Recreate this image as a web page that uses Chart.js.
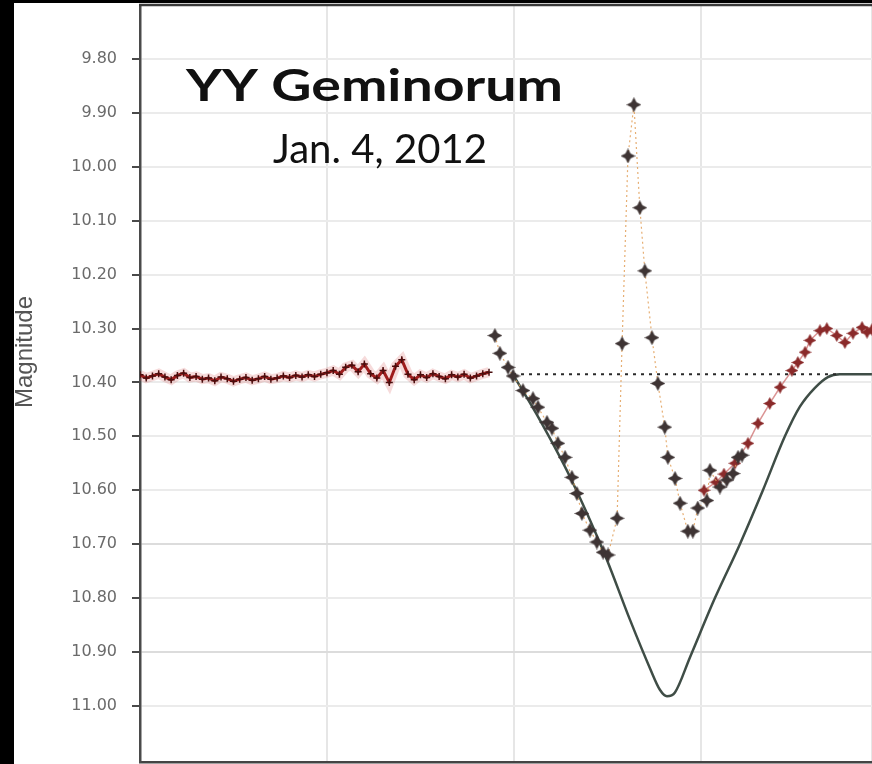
<!DOCTYPE html>
<html>
<head>
<meta charset="utf-8">
<script src="https://cdn.jsdelivr.net/npm/chart.js@4"></script>
<style>
  html, body { margin: 0; padding: 0; background: #fff; overflow: hidden; }
  #wrap { position: relative; width: 872px; height: 764px; }
  canvas { display: block; }
</style>
</head>
<body>
<div id="wrap"><canvas id="lc" width="872" height="764"></canvas></div>
<script>
// YY Geminorum light curve, Jan. 4, 2012 (time in minutes from start of run)

// magnitude axis tick labels
const magTicks = [9.80, 9.90, 10.00, 10.10, 10.20, 10.30, 10.40, 10.50, 10.60, 10.70, 10.80, 10.90, 11.00];

// out-of-eclipse baseline
const baseTimes = [0, 2, 4, 6, 8, 10, 12, 14, 16, 18, 20, 22, 24, 26, 28, 30, 32, 34, 36, 38,
  40, 42, 44, 46, 48, 50, 52, 54, 56, 58, 60, 62, 64, 66, 68, 70, 72, 74, 76, 78,
  80, 82, 84, 86, 88, 90, 92, 94, 96, 98, 100, 102, 104, 106, 108, 110, 112];
const baseMags = [10.386, 10.392, 10.388, 10.384, 10.390, 10.395, 10.387, 10.383, 10.391, 10.389,
  10.394, 10.392, 10.397, 10.390, 10.393, 10.398, 10.394, 10.391, 10.396, 10.393,
  10.389, 10.394, 10.392, 10.388, 10.391, 10.387, 10.390, 10.386, 10.389, 10.385,
  10.382, 10.378, 10.385, 10.372, 10.368, 10.380, 10.366, 10.384, 10.392, 10.378,
  10.400, 10.370, 10.358, 10.385, 10.395, 10.386, 10.391, 10.384, 10.389, 10.393,
  10.386, 10.390, 10.385, 10.392, 10.388, 10.384, 10.381];

// eclipse ingress, flare and minimum
const eclTimes = [113.9, 115.5, 118.1, 119.7, 122.9, 126.1, 127.7, 130.6, 132.2, 134.1,
  136.4, 138.6, 140.2, 141.8, 144.4, 146.6, 148.6, 150.2, 153.1, 154.7,
  156.6, 158.5, 160.4, 162.0, 164.3, 166.2, 168.4, 169.4, 171.7, 173.3,
  175.8, 177.4, 179.0, 181.9, 182.9, 186.1, 188.3, 190.3, 191.9, 193.2];
const eclMags = [10.313, 10.346, 10.372, 10.388, 10.415, 10.430, 10.446, 10.474, 10.485, 10.513,
  10.539, 10.576, 10.606, 10.643, 10.674, 10.696, 10.715, 10.720, 10.652, 10.328,
  9.980, 9.885, 10.076, 10.193, 10.317, 10.402, 10.483, 10.539, 10.578, 10.624,
  10.676, 10.676, 10.633, 10.619, 10.563, 10.594, 10.581, 10.569, 10.539, 10.535];

// egress and return to maximum
const egrTimes = [181.0, 184.8, 187.4, 190.9, 195.1, 198.3, 202.1, 205.4, 209.2, 211.1,
  213.4, 215.0, 218.2, 220.4, 223.6, 226.2, 228.8, 231.7, 233.3, 234.9];
const egrMags = [10.600, 10.585, 10.570, 10.550, 10.513, 10.476, 10.439, 10.409, 10.378, 10.363,
  10.344, 10.322, 10.304, 10.300, 10.313, 10.326, 10.309, 10.298, 10.307, 10.302];

// predicted eclipse profile
const modelTimes = [119.68, 128.34, 137.97, 149.20, 157.22, 163.64, 166.84, 169.09, 171.66, 176.47,
  184.49, 192.51, 199.89, 206.95, 211.76, 216.58, 220.75, 224.60, 234.87];
const modelMags = [10.385, 10.47, 10.575, 10.72, 10.84, 10.93, 10.97, 10.982, 10.975, 10.91,
  10.80, 10.70, 10.60, 10.50, 10.445, 10.41, 10.39, 10.385, 10.385];

// mean out-of-eclipse level
const refTimes = [119.7, 224.6];
const refMags = [10.385, 10.385];

const pts = (xs, ys) => xs.map((x, i) => ({ x: x, y: ys[i] }));

// four-pointed star marker
function starMarker(size, color) {
  const c = document.createElement('canvas');
  c.width = size; c.height = size;
  const g = c.getContext('2d');
  const m = size / 2, w = size * 0.17;
  g.fillStyle = color;
  g.beginPath();
  g.moveTo(m, 0);
  g.lineTo(m + w, m - w);
  g.lineTo(size, m);
  g.lineTo(m + w, m + w);
  g.lineTo(m, size);
  g.lineTo(m - w, m + w);
  g.lineTo(0, m);
  g.lineTo(m - w, m - w);
  g.closePath();
  g.fill();
  return c;
}
const darkStar = starMarker(15, '#3e3434');
const redStar = starMarker(13, '#8a2a2a');

const frame = {
  id: 'frame',
  beforeDraw(chart) {
    const ctx = chart.ctx;
    ctx.save();
    ctx.fillStyle = '#ffffff';
    ctx.fillRect(0, 0, chart.width, chart.height);
    ctx.fillStyle = '#000000';
    ctx.fillRect(0, 0, 14, chart.height);
    ctx.fillRect(0, 0, chart.width, 3);
    ctx.restore();
  },
  afterDraw(chart) {
    const ctx = chart.ctx;
    const a = chart.chartArea;
    ctx.save();
    ctx.strokeStyle = '#3a3a3a';
    ctx.lineWidth = 2.5;
    ctx.beginPath();
    ctx.moveTo(a.left - 1, a.top);
    ctx.lineTo(a.right, a.top);
    ctx.stroke();

    // title block
    ctx.fillStyle = '#111111';
    ctx.textAlign = 'left';
    ctx.textBaseline = 'alphabetic';
    ctx.font = 'bold 43px Lato';
    const t1 = 'YY Geminorum';
    const w1 = ctx.measureText(t1).width;
    ctx.save();
    ctx.translate(186, 101);
    ctx.scale(377 / w1, 1);
    ctx.fillText(t1, 0, 0);
    ctx.restore();

    ctx.font = '40px Lato';
    const t2 = 'Jan. 4, 2012';
    const w2 = ctx.measureText(t2).width;
    ctx.save();
    ctx.translate(273, 163);
    ctx.scale(214 / w2, 1);
    ctx.fillText(t2, 0, 0);
    ctx.restore();

    // axis title
    ctx.save();
    ctx.translate(25, 352);
    ctx.rotate(-Math.PI / 2);
    ctx.fillStyle = '#555555';
    ctx.font = '24px "Liberation Sans"';
    ctx.textAlign = 'center';
    ctx.textBaseline = 'middle';
    ctx.fillText('Magnitude', 0, 0);
    ctx.restore();
    ctx.restore();
  }
};

new Chart(document.getElementById('lc'), {
  type: 'line',
  data: {
    datasets: [
      {
        data: pts(eclTimes, eclMags),
        borderColor: 'rgba(226,160,90,0.85)',
        borderWidth: 1.2,
        borderDash: [2, 3],
        pointStyle: darkStar,
        pointRadius: 7,
        tension: 0,
        order: 0
      },
      {
        data: pts(egrTimes, egrMags),
        borderColor: 'rgba(190,60,60,0.55)',
        borderWidth: 1.5,
        pointStyle: redStar,
        pointRadius: 6,
        tension: 0,
        order: 1
      },
      {
        data: pts(baseTimes, baseMags),
        borderColor: '#9e1d1d',
        borderWidth: 3,
        pointStyle: 'cross',
        pointRadius: 3.5,
        pointBorderWidth: 1.5,
        pointBorderColor: '#4a0e0e',
        tension: 0,
        order: 2
      },
      {
        data: pts(baseTimes, baseMags),
        borderColor: 'rgba(215,90,90,0.22)',
        borderWidth: 10,
        pointRadius: 0,
        tension: 0,
        order: 3
      },
      {
        data: pts(refTimes, refMags),
        borderColor: '#2a2a2a',
        borderWidth: 2,
        borderDash: [3, 5],
        pointRadius: 0,
        order: 4
      },
      {
        data: pts(modelTimes, modelMags),
        borderColor: '#3f4d46',
        borderWidth: 2.5,
        pointRadius: 0,
        cubicInterpolationMode: 'monotone',
        order: 5
      }
    ]
  },
  options: {
    responsive: false,
    animation: false,
    devicePixelRatio: 1,
    layout: { autoPadding: false, padding: { top: 5, bottom: 2, left: 0, right: 0 } },
    plugins: { legend: { display: false }, tooltip: { enabled: false } },
    scales: {
      x: {
        type: 'linear',
        min: 0,
        max: 234.9,
        ticks: { display: false, stepSize: 60 },
        grid: { color: '#e6e6e6', lineWidth: 2, drawTicks: false },
        border: { color: '#444444', width: 2.5 },
        afterFit(s) { s.height = 0; s.paddingLeft = 0; s.paddingRight = 0; }
      },
      y: {
        type: 'linear',
        reverse: true,
        min: 9.70,
        max: 11.104,
        afterBuildTicks(s) { s.ticks = magTicks.map(v => ({ value: v })); },
        ticks: {
          padding: 15,
          color: '#6a6a6a',
          font: { family: 'DejaVu Sans', size: 16 },
          callback: v => v.toFixed(2)
        },
        grid: {
          color: ctx => (ctx.tick && (Math.abs(ctx.tick.value - 10.7) < 1e-6 || Math.abs(ctx.tick.value - 10.9) < 1e-6)) ? '#dcdcdc' : '#ebebeb',
          lineWidth: 2,
          drawTicks: true,
          tickLength: 8,
          tickColor: '#4a4a4a',
          tickWidth: 2
        },
        border: { color: '#4a4a4a', width: 2.5 },
        afterFit(s) { s.width = 140; s.paddingTop = 0; s.paddingBottom = 0; }
      }
    }
  },
  plugins: [frame]
});
</script>
</body>
</html>
